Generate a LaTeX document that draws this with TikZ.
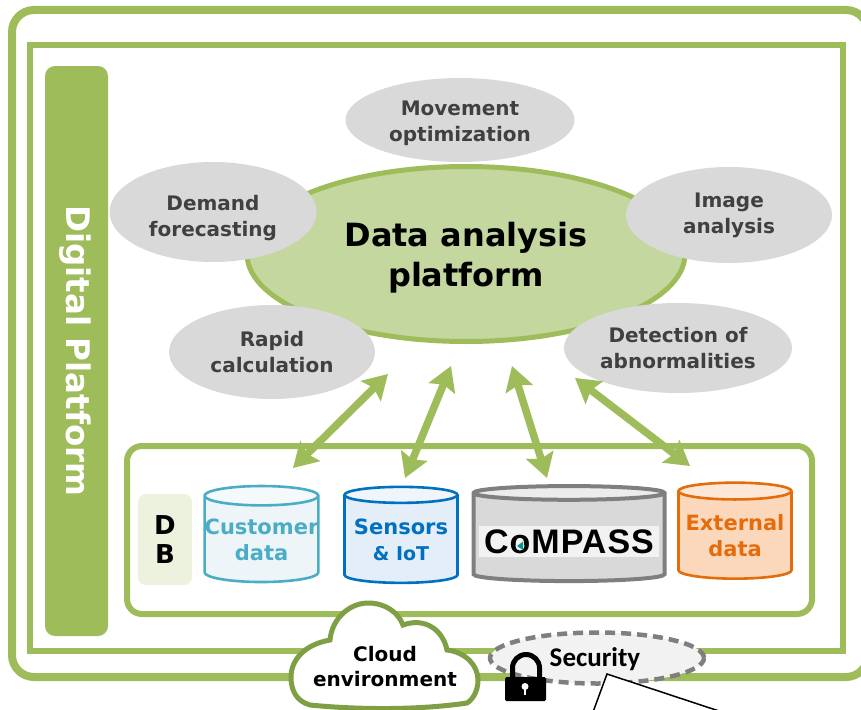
\documentclass[tikz,border=0pt]{standalone}
\usepackage{fontspec}
\setmainfont{DejaVu Sans}
\newfontfamily\labelfont{Carlito}
\newfontfamily\logofont[LetterSpace=3]{Liberation Sans}
\usetikzlibrary{positioning,arrows.meta,shapes.geometric}

\definecolor{framegreen}{HTML}{9FBC5A}
\definecolor{cloudgreen}{HTML}{7F9F45}
\definecolor{hubfill}{HTML}{C4D79F}
\definecolor{bubblegrey}{HTML}{D9D9D9}
\definecolor{textgrey}{HTML}{404040}
\definecolor{custline}{HTML}{4BACC6}
\definecolor{custfill}{HTML}{EDF5F9}
\definecolor{sensline}{HTML}{0070C0}
\definecolor{sensfill}{HTML}{E4EEF8}
\definecolor{compline}{HTML}{7F7F7F}
\definecolor{extline}{HTML}{E46C0A}
\definecolor{extfill}{HTML}{FBD7BC}

\tikzset{
	bubble/.style={shape=ellipse,fill=bubblegrey,inner sep=0pt,align=center,text=textgrey,
		font=\fontsize{20}{26}\selectfont\bfseries},
	store/.style={shape=cylinder,shape border rotate=90,aspect=0.17,draw=#1,line width=2.6pt,
		cylinder uses custom fill,inner sep=0pt,align=center,text=#1,
		font=\fontsize{21}{26}\selectfont\bfseries},
}

\begin{document}
\begin{tikzpicture}[x=1pt,y=-1pt]
	\useasboundingbox (0,0) rectangle (861,709);
	\clip (0,0) rectangle (861,709);

	\draw[framegreen,line width=8pt,rounded corners=22pt] (12,10) rectangle (868,677);
	\draw[framegreen,line width=5.5pt] (30,45) rectangle (843,651);

	\node[shape=rectangle,fill=framegreen,rounded corners=10pt,minimum width=63pt,minimum height=570pt,inner sep=0pt] (sidebar) at (76.5,351) {};
	\node[rotate=-90,text=white,font=\fontsize{32.5}{33}\selectfont\bfseries] (sidetitle) at (75,351) {Digital Platform};

	\node[shape=ellipse,draw=framegreen,fill=hubfill,line width=5pt,minimum width=438pt,minimum height=175pt,inner sep=0pt,align=center,
		font=\fontsize{32}{40}\selectfont\bfseries] (hub) at (466,254) {\rule{0pt}{32.3pt}Data analysis\\platform};

	\node[bubble,minimum width=229pt,minimum height=84pt] (movement) at (460,120) {\rule{0pt}{21pt}Movement\\optimization};
	\node[bubble,minimum width=207pt,minimum height=100pt] (demand) at (213,212) {\rule{0pt}{27pt}Demand\\forecasting};
	\node[bubble,minimum width=206pt,minimum height=96pt] (image) at (729,215) {Image\\analysis};
	\node[bubble,minimum width=206pt,minimum height=94pt] (rapid) at (272,352) {Rapid\\calculation};
	\node[bubble,minimum width=228pt,minimum height=90pt] (detection) at (678,348) {Detection of\\abnormalities};

	\draw[framegreen,line width=6pt,rounded corners=15pt] (127,446) rectangle (812,614);

	\node[shape=rectangle,fill=framegreen!20,rounded corners=8pt,minimum width=54pt,minimum height=91pt,inner sep=0pt,align=center,
		font=\fontsize{26}{29}\selectfont\bfseries] (db) at (165,539.5) {D\\B};

	\node[store=custline,cylinder body fill=custfill,cylinder end fill=custfill!60,minimum width=113pt,minimum height=96pt] (customer) at (261.5,539.5) {Customer\\data};
	\node[store=sensline,cylinder body fill=sensfill,cylinder end fill=sensfill!60,minimum width=113pt,minimum height=96pt] (sensors) at (401,539.5) {Sensors\\\fontsize{19}{26}\selectfont\&~IoT};
	\node[store=extline,cylinder body fill=extfill,cylinder end fill=extfill!60,minimum width=113pt,minimum height=96pt] (external) at (735,535.5) {External\\data};
	\node[store=compline,line width=4pt,aspect=0.125,cylinder body fill=bubblegrey,cylinder end fill=bubblegrey!50,minimum width=191pt,minimum height=95pt] (compass) at (569,538) {\phantom{CoMPASS}};

	\node[shape=rectangle,fill=black!5,minimum width=180pt,minimum height=31pt,inner sep=0pt,font=\fontsize{34}{34}\selectfont\bfseries\logofont] (logo) at (569,541.5) {CoMPASS};
	\fill[black!5] (520,546) circle (4.5pt);
	\fill[teal!80!cyan] (517,546) -- (523,541.5) -- (523,550) -- cycle;

	\coordinate (custend) at (293,468);
	\coordinate (custtip) at (388,374);
	\coordinate (sensend) at (405,478);
	\coordinate (senstip) at (451,366);
	\coordinate (compend) at (547,478);
	\coordinate (comptip) at (512,366);
	\coordinate (extend) at (690,466);
	\coordinate (exttip) at (575,378);

	\begin{scope}[>={Stealth[length=24pt,width=28pt,inset=4pt]},line width=7.5pt,draw=framegreen]

		\path [<->] (custend) edge (custtip);
		\path [<->] (sensend) edge (senstip);
		\path [<->] (compend) edge (comptip);
		\path [<->] (extend) edge (exttip);

	\end{scope}

	\draw[cloudgreen,fill=white,line width=5pt] (310,705)
		.. controls (296,701) and (291,690) .. (291,677)
		.. controls (291,662) and (302,645) .. (330,640)
		.. controls (332,618) and (350,603) .. (368,603)
		.. controls (385,603) and (398,612) .. (403,625)
		.. controls (425,617) and (443,630) .. (447,650)
		.. controls (465,652) and (478,665) .. (478,680)
		.. controls (478,692) and (472,700) .. (467,703)
		.. controls (420,710) and (360,710) .. (310,705) -- cycle;
	\node[align=center,font=\fontsize{20}{25}\selectfont\bfseries] (cloud) at (385,667) {Cloud\\environment};

	\node[shape=ellipse,draw=compline,fill=black!5,dashed,dash pattern=on 10pt off 6pt,line width=4.5pt,minimum width=214pt,minimum height=51pt,inner sep=0pt] (security) at (597,658) {};
	\node[font=\fontsize{27}{27}\selectfont\bfseries\labelfont,anchor=center] (securitytext) at (595,659) {Security};

	\draw[black,line width=5pt] (512.5,680) -- (512.5,668) arc[start angle=180,end angle=0,radius=13.5pt] -- (539.5,680);
	\fill[black,rounded corners=1.5pt] (505,677) rectangle (546,701);
	\fill[white] (525,686.5) circle (3.5pt);
	\fill[white] (523.7,687) rectangle (526.3,695);

	\coordinate (calloutapex) at (607,674);
	\coordinate (calloutleft) at (593,712);
	\coordinate (calloutright) at (722,712);
	\filldraw[draw=black,fill=white,line width=1.5pt] (calloutleft) -- (calloutapex) -- (calloutright);
\end{tikzpicture}
\end{document}
